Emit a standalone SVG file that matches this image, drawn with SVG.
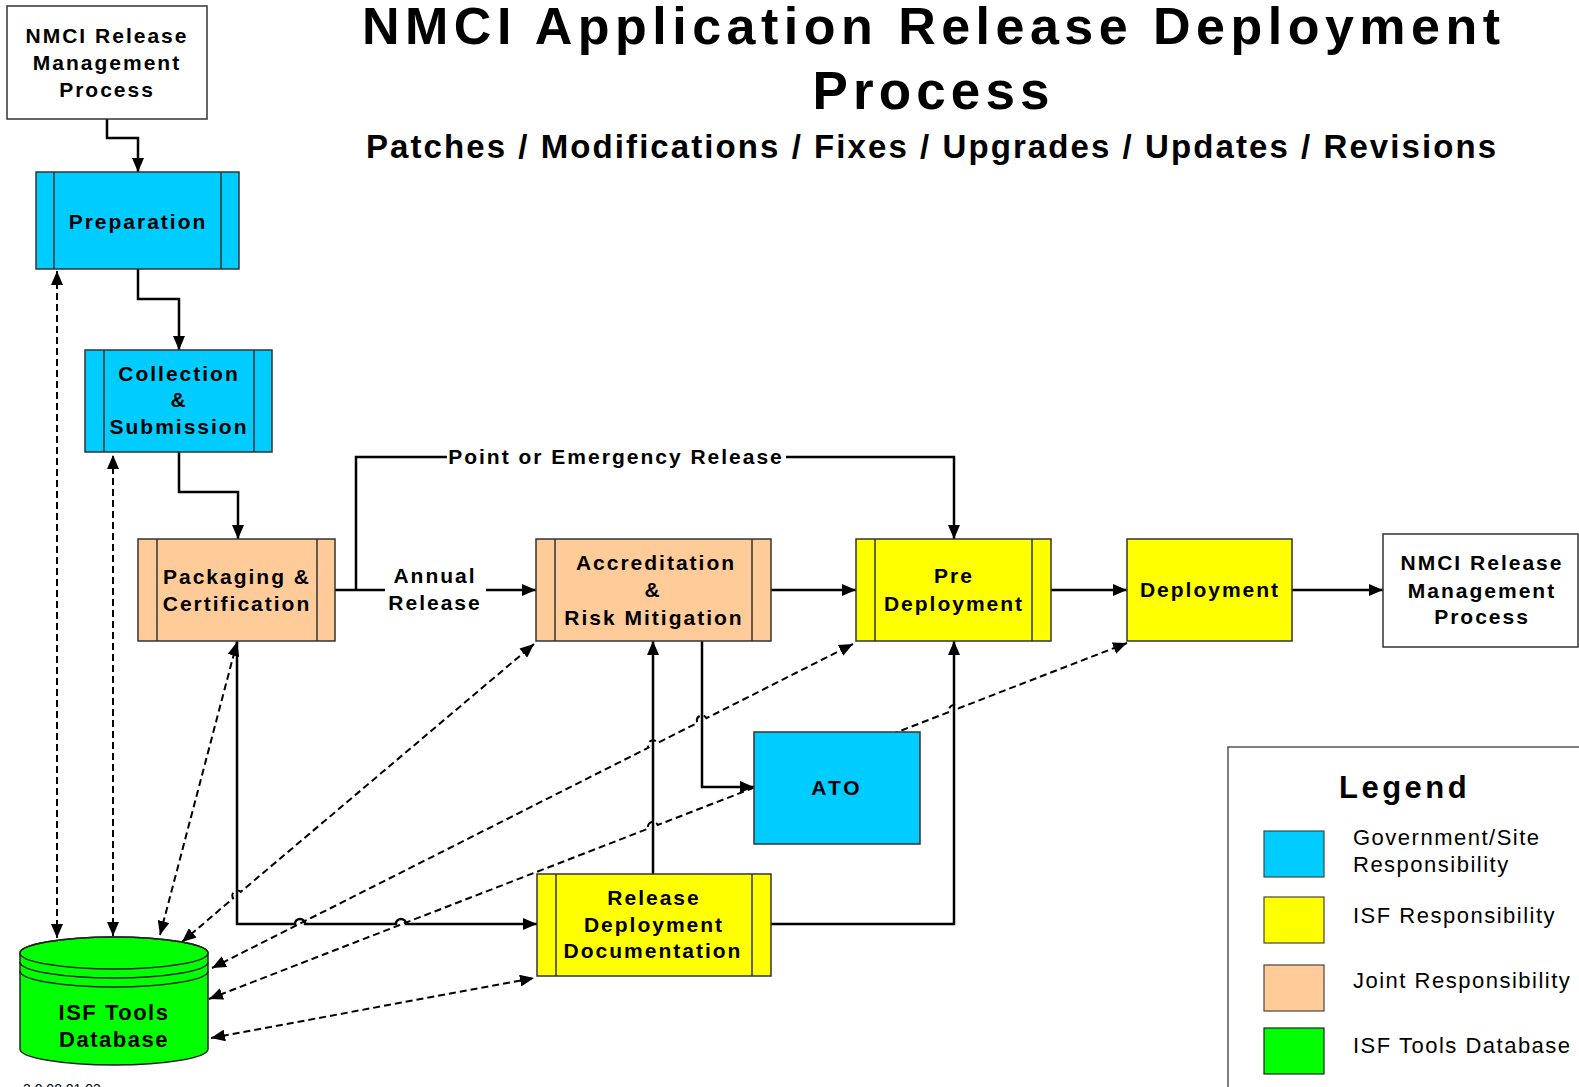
<svg xmlns="http://www.w3.org/2000/svg" width="1579" height="1087" viewBox="0 0 1579 1087">
<style>
text{font-family:"Liberation Sans",Arial,sans-serif;fill:#000}
.b{font-weight:bold;font-size:21px;letter-spacing:2px;text-anchor:middle}
.t{font-weight:bold;text-anchor:middle}
.lg{font-size:22px;letter-spacing:1.5px}
.box{stroke:#333;stroke-width:1.5}
.in{stroke:#333;stroke-width:1.5}
.blue{fill:#00CCFF}.yel{fill:#FFFF00}.pch{fill:#FFCC99}.grn{fill:#00FF00}.wht{fill:#fff}
.c{fill:none;stroke:#000;stroke-width:2.5}
.d{fill:none;stroke:#000;stroke-width:2;stroke-dasharray:7 4}
</style>
<defs>
<marker id="ah" viewBox="0 0 14 12" refX="14" refY="6" markerWidth="14" markerHeight="12" markerUnits="userSpaceOnUse" orient="auto-start-reverse"><path d="M0 0L14 6L0 12z" fill="#000"/></marker>
<marker id="dh" viewBox="0 0 14 12" refX="14" refY="6" markerWidth="14" markerHeight="12" markerUnits="userSpaceOnUse" orient="auto-start-reverse"><path d="M0 0L14 6L0 12z" fill="#000"/></marker>
</defs>
<g id="title">
<text class="t" x="931" y="44" font-size="52" textLength="1138" lengthAdjust="spacing">NMCI Application Release Deployment</text>
<text class="t" x="931" y="109" font-size="53" textLength="237" lengthAdjust="spacing">Process</text>
<text class="t" x="931" y="158" font-size="33" textLength="1130" lengthAdjust="spacing">Patches / Modifications / Fixes / Upgrades / Updates / Revisions</text>
</g>
<g id="connectors">
<path class="c" d="M107 119V138H138V172" marker-end="url(#ah)"/>
<path class="c" d="M138 269V299H179V350" marker-end="url(#ah)"/>
<path class="c" d="M179 452V492H238V539" marker-end="url(#ah)"/>
<path class="c" d="M335 590H385"/>
<path class="c" d="M486 590H536" marker-end="url(#ah)"/>
<path class="c" d="M356 590V457H447"/>
<path class="c" d="M786 457H954V539" marker-end="url(#ah)"/>
<path class="c" d="M771 590H856" marker-end="url(#ah)"/>
<path class="c" d="M1051 590H1127" marker-end="url(#ah)"/>
<path class="c" d="M1292 590H1383" marker-end="url(#ah)"/>
<path class="c" d="M702 641V787H754" marker-end="url(#ah)"/>
<path class="c" d="M653 874V641" marker-end="url(#ah)"/>
<path class="c" d="M771 924H954V641" marker-end="url(#ah)"/>
<path class="c" d="M237 641V924H295A5 5 0 0 1 305 924H396A5 5 0 0 1 406 924H537" marker-end="url(#ah)"/>
<path class="d" d="M57 938V271" marker-start="url(#dh)" marker-end="url(#dh)"/>
<path class="d" d="M113 936V455" marker-start="url(#dh)" marker-end="url(#dh)"/>
<path class="d" d="M160 935L237 642" marker-start="url(#dh)" marker-end="url(#dh)"/>
<path class="d" d="M182 942L233.2 898.2A5 5 0 0 1 240.8 891.8L534 644" marker-start="url(#dh)" marker-end="url(#dh)"/>
<path class="d" d="M212 968L648.5 747.6A5 5 0 0 1 657.5 743L697.5 722.8A5 5 0 0 1 706.5 718.2L853 644" marker-start="url(#dh)" marker-end="url(#dh)"/>
<path class="d" d="M209 999L648.3 828.6A5 5 0 0 1 657.7 825L949.3 711.9A5 5 0 0 1 958.7 708.3L1127 643" marker-start="url(#dh)" marker-end="url(#dh)"/>
<path class="d" d="M211 1038L534 978" marker-start="url(#dh)" marker-end="url(#dh)"/>
<text class="b" x="616" y="464">Point or Emergency Release</text>
<text class="b" x="435" y="583">Annual</text>
<text class="b" x="435" y="610">Release</text>
</g>
<g id="nmci-start">
<rect class="box wht" x="7" y="6" width="200" height="113"/>
<text class="b" x="107" y="43">NMCI Release</text>
<text class="b" x="107" y="70">Management</text>
<text class="b" x="107" y="97">Process</text>
</g>
<g id="preparation">
<rect class="box blue" x="36" y="172" width="203" height="97"/>
<path class="in" d="M54 172V269M221 172V269"/>
<text class="b" x="138" y="229">Preparation</text>
</g>
<g id="collection">
<rect class="box blue" x="85" y="350" width="187" height="102"/>
<path class="in" d="M104 350V452M254 350V452"/>
<text class="b" x="179" y="381">Collection</text>
<text class="b" x="179" y="407">&amp;</text>
<text class="b" x="179" y="434">Submission</text>
</g>
<g id="packaging">
<rect class="box pch" x="138" y="539" width="197" height="102"/>
<path class="in" d="M157 539V641M317 539V641"/>
<text class="b" x="237" y="584">Packaging &amp;</text>
<text class="b" x="237" y="611">Certification</text>
</g>
<g id="accreditation">
<rect class="box pch" x="536" y="539" width="235" height="102"/>
<path class="in" d="M555 539V641M752 539V641"/>
<text class="b" x="656" y="570">Accreditation</text>
<text class="b" x="653" y="597">&amp;</text>
<text class="b" x="654" y="625">Risk Mitigation</text>
</g>
<g id="predeployment">
<rect class="box yel" x="856" y="539" width="195" height="102"/>
<path class="in" d="M875 539V641M1032 539V641"/>
<text class="b" x="954" y="583">Pre</text>
<text class="b" x="954" y="611">Deployment</text>
</g>
<g id="deployment">
<rect class="box yel" x="1127" y="539" width="165" height="102"/>
<text class="b" x="1210" y="597">Deployment</text>
</g>
<g id="nmci-end">
<rect class="box wht" x="1383" y="534" width="195" height="113"/>
<text class="b" x="1482" y="570">NMCI Release</text>
<text class="b" x="1482" y="598">Management</text>
<text class="b" x="1482" y="624">Process</text>
</g>
<g id="ato">
<rect class="box blue" x="754" y="732" width="166" height="112"/>
<text class="b" x="837" y="795" style="letter-spacing:3px">ATO</text>
</g>
<g id="releasedoc">
<rect class="box yel" x="537" y="874" width="234" height="102"/>
<path class="in" d="M556 874V976M752 874V976"/>
<text class="b" x="654" y="905">Release</text>
<text class="b" x="654" y="932">Deployment</text>
<text class="b" x="653" y="958">Documentation</text>
</g>
<g id="database">
<path class="grn" stroke="#222" stroke-width="1.5" d="M20 953A94 16 0 0 1 208 953V1049A94 16 0 0 1 20 1049Z"/>
<ellipse cx="114" cy="953" rx="94" ry="16" fill="none" stroke="#222" stroke-width="1.5"/>
<path fill="none" stroke="#222" stroke-width="1.5" d="M20 962A94 16 0 0 0 208 962M20 971A94 16 0 0 0 208 971"/>
<text class="b" x="114" y="1020" style="font-size:22px;letter-spacing:1.5px">ISF Tools</text>
<text class="b" x="114" y="1047" style="font-size:22px;letter-spacing:1.5px">Database</text>
</g>
<g id="legend">
<path d="M1228 1090V747H1582" fill="none" stroke="#555" stroke-width="1.5"/>
<text x="1339" y="798" font-weight="bold" font-size="31" letter-spacing="3.5">Legend</text>
<rect class="blue" stroke="#444" stroke-width="1.2" x="1264" y="831" width="60" height="46"/>
<rect class="yel" stroke="#444" stroke-width="1.2" x="1264" y="897" width="60" height="46"/>
<rect class="pch" stroke="#444" stroke-width="1.2" x="1264" y="965" width="60" height="46"/>
<rect class="grn" stroke="#222" stroke-width="1.2" x="1264" y="1028" width="60" height="46"/>
<text class="lg" x="1353" y="845">Government/Site</text>
<text class="lg" x="1353" y="872">Responsibility</text>
<text class="lg" x="1353" y="923">ISF Responsibility</text>
<text class="lg" x="1353" y="988">Joint Responsibility</text>
<text class="lg" x="1353" y="1053">ISF Tools Database</text>
</g>
<text x="23" y="1094" font-size="14">3.0.00.01.03</text>
</svg>
